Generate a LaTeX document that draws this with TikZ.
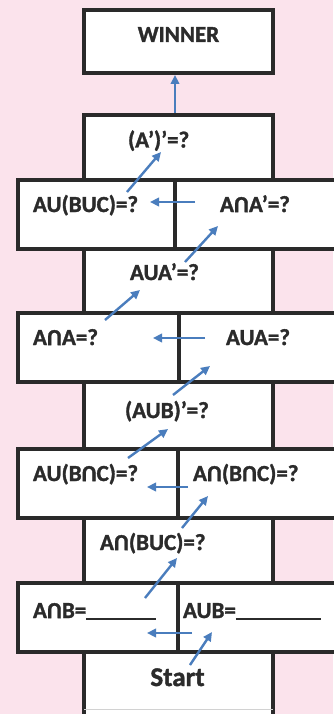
\documentclass[tikz,border=0pt]{standalone}
\usepackage{fontspec}
\setmainfont{Carlito}[BoldFont={Carlito Bold}]
% slightly emboldened face for the box captions
\newfontfamily\heavy{Carlito Bold}[FakeBold=1.4]
\usetikzlibrary{arrows.meta}
\definecolor{bgpink}{HTML}{FBE3EC}
\definecolor{edge}{HTML}{2A2A2A}
\definecolor{ink}{HTML}{2B2B2B}
\definecolor{arrowblue}{HTML}{4A7DBD}
% intersection sign drawn as an upturned U in the text face
\newcommand\capU{\rotatebox[origin=c]{180}{U}}
\newcommand\blank[1]{\rule[-2pt]{#1}{1.6pt}}

\begin{document}
\begin{tikzpicture}[x=1pt,y=-1pt,
  box/.style={draw=edge, line width=4pt, fill=white, outer sep=0pt, inner sep=0pt},
  lbl/.style={font=\fontsize{23}{25}\selectfont\heavy, text=ink, inner sep=0pt, outer sep=0pt},
  flow/.style={draw=arrowblue, line width=2.4pt, -{Triangle[length=9pt,width=8.5pt]}}]

% page and background
\useasboundingbox (0,0) rectangle (333,714);
\fill[bgpink] (0,0) rectangle (333,714);

% stepping boxes, top to bottom
\node[box, minimum width=189pt, minimum height=63pt] (win)   at (178.5,41.5) {};
\node[box, minimum width=189pt, minimum height=65pt] (q1)    at (178.5,147.5) {};
\node[box, minimum width=157pt, minimum height=69pt] (r2l)   at (96.5,214.5) {};
\node[box, minimum width=170pt, minimum height=69pt] (r2r)   at (260,214.5) {};
\node[box, minimum width=189pt, minimum height=64pt] (q3)    at (178.5,281) {};
\node[box, minimum width=161pt, minimum height=69pt] (r4l)   at (98.5,347.5) {};
\node[box, minimum width=166pt, minimum height=69pt] (r4r)   at (262,347.5) {};
\node[box, minimum width=189pt, minimum height=67pt] (q5)    at (178.5,415.5) {};
\node[box, minimum width=160pt, minimum height=69pt] (r6l)   at (98,483.5) {};
\node[box, minimum width=167pt, minimum height=69pt] (r6r)   at (261.5,483.5) {};
\node[box, minimum width=189pt, minimum height=65pt] (q7)    at (178.5,550.5) {};
\node[box, minimum width=160pt, minimum height=69pt] (r8l)   at (98,617.5) {};
\node[box, minimum width=167pt, minimum height=69pt] (r8r)   at (261.5,617.5) {};
\node[box, minimum width=189pt, minimum height=73pt] (start) at (178.5,688.5) {};
\draw[gray!35, line width=1pt] (84,709) -- (273,709);

% labels
\node[lbl, anchor=base] (tw) at (178.5,42) {WINNER};
\node[lbl, anchor=base west] (t1) at (128,147.5) {(A’)’=?};
\node[lbl, anchor=base west] (t2l) at (33,212) {AU(BUC)=?};
\node[lbl, anchor=base west] (t2r) at (220,212) {A\capU A’=?};
\node[lbl, anchor=base west] (t3) at (130,280) {AUA’=?};
\node[lbl, anchor=base west] (t4l) at (33,345) {A\capU A=?};
\node[lbl, anchor=base west] (t4r) at (226,345) {AUA=?};
\node[lbl, anchor=base west] (t5) at (125,418) {(AUB)’=?};
\node[lbl, anchor=base west] (t6l) at (33,481) {AU(B\capU C)=?};
\node[lbl, anchor=base west] (t6r) at (193,481) {A\capU(B\capU C)=?};
\node[lbl, anchor=base west] (t7) at (100,550) {A\capU(BUC)=?};
\node[lbl, anchor=base west] (t8l) at (33,618) {A\capU B=\blank{70pt}};
\node[lbl, anchor=base west] (t8r) at (183,618) {AUB=\blank{85pt}};
\node[lbl, anchor=base, font=\fontsize{27}{29}\selectfont\heavy] (ts) at (177.5,686) {Start};

% arrow end points
\coordinate (s1) at (175,113);  \coordinate (e1) at (175,75);
\coordinate (s2) at (127,192);  \coordinate (e2) at (161,152);
\coordinate (s3) at (195,202);  \coordinate (e3) at (150,202);
\coordinate (s4) at (185,262);  \coordinate (e4) at (218,226);
\coordinate (s5) at (105,320);  \coordinate (e5) at (140,290);
\coordinate (s6) at (205,338);  \coordinate (e6) at (153,338);
\coordinate (s7) at (173,395);  \coordinate (e7) at (210,366);
\coordinate (s8) at (128,458);  \coordinate (e8) at (168,429);
\coordinate (s9) at (188,487);  \coordinate (e9) at (147,487);
\coordinate (s10) at (182,528); \coordinate (e10) at (208,496);
\coordinate (s11) at (145,598); \coordinate (e11) at (177,558);
\coordinate (s12) at (192,633); \coordinate (e12) at (147,633);
\coordinate (s13) at (190,665); \coordinate (e13) at (212,632);

% path from Start up to WINNER
\foreach \i in {1,...,13} {\draw[flow] (s\i) -- (e\i);}
\end{tikzpicture}
\end{document}
